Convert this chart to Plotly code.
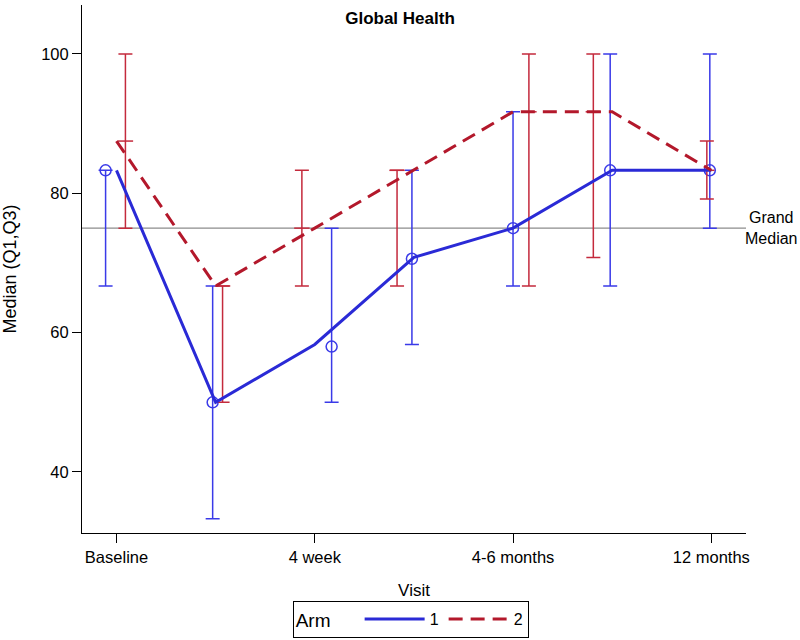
import plotly.graph_objects as go

# ---- data ----
visit_ticks = [0, 2, 4, 6]
visit_labels = ["Baseline", "4 week", "4-6 months", "12 months"]
visit_index = [0, 1, 2, 3, 4, 5, 6]

# Arm 1
arm1_line = [83.3, 50.0, 58.3, 70.8, 75.0, 83.3, 83.3]
arm1_median = [83.3, 50.0, 58.0, 70.6, 75.0, 83.3, 83.3]
arm1_q1 = [66.7, 33.3, 50.0, 58.3, 66.7, 66.7, 75.0]
arm1_q3 = [83.3, 66.7, 75.0, 83.3, 91.7, 100.0, 100.0]
arm1_jitter = [-0.11, -0.03, 0.17, -0.02, 0.0, -0.02, -0.015]

# Arm 2
arm2_line = [87.5, 66.7, 75.0, 83.3, 91.7, 91.7, 83.3]
arm2_median = [87.5, 66.7, 75.0, 83.3, 91.7, 91.7, 83.3]
arm2_q1 = [75.0, 50.0, 66.7, 66.7, 66.7, 70.8, 79.2]
arm2_q3 = [100.0, 66.7, 83.3, 83.3, 100.0, 100.0, 87.5]
arm2_jitter = [0.09, 0.07, -0.13, -0.17, 0.16, -0.19, -0.045]

grand_median = 75.0

BLUE_LINE = "#2a2ad6"
BLUE_BAR = "#3a3ae8"
RED_LINE = "#b3182b"
RED_BAR = "#c42a3c"
FONT = "Liberation Sans, Arial, sans-serif"

fig = go.Figure()

# error bars arm 1 (open circles)
x1 = [v + j for v, j in zip(visit_index, arm1_jitter)]
fig.add_trace(go.Scatter(
    x=x1, y=arm1_median, mode="markers", showlegend=False,
    marker=dict(symbol="circle-open", size=11, color=BLUE_BAR, line=dict(width=1.5, color=BLUE_BAR)),
    error_y=dict(type="data", symmetric=False,
                 array=[q3 - m for q3, m in zip(arm1_q3, arm1_median)],
                 arrayminus=[m - q1 for m, q1 in zip(arm1_median, arm1_q1)],
                 color=BLUE_BAR, thickness=1.5, width=7),
    hoverinfo="skip",
))

# error bars arm 2 (median tick)
x2 = [v + j for v, j in zip(visit_index, arm2_jitter)]
fig.add_trace(go.Scatter(
    x=x2, y=arm2_median, mode="markers", showlegend=False,
    marker=dict(symbol="line-ew-open", size=11, color=RED_BAR, line=dict(width=1.5, color=RED_BAR)),
    error_y=dict(type="data", symmetric=False,
                 array=[q3 - m for q3, m in zip(arm2_q3, arm2_median)],
                 arrayminus=[m - q1 for m, q1 in zip(arm2_median, arm2_q1)],
                 color=RED_BAR, thickness=1.5, width=7),
    hoverinfo="skip",
))

# median lines
fig.add_trace(go.Scatter(
    x=visit_index, y=arm1_line, mode="lines", name="1",
    line=dict(color=BLUE_LINE, width=3),
))
fig.add_trace(go.Scatter(
    x=visit_index, y=arm2_line, mode="lines", name="2",
    line=dict(color=RED_LINE, width=3, dash="14px,8px"),
))

# grand median
fig.add_shape(type="line", xref="paper", x0=0, x1=1, yref="y", y0=grand_median, y1=grand_median,
              line=dict(color="#8c8c8c", width=1.2), layer="below")
fig.add_annotation(xref="paper", x=1.038, yref="y", y=grand_median, text="Grand<br>Median",
                   showarrow=False, xanchor="center", yanchor="middle",
                   font=dict(size=16, color="black", family=FONT))

fig.update_layout(
    width=800, height=640,
    paper_bgcolor="white", plot_bgcolor="white",
    margin=dict(l=82, r=54, t=5, b=107, autoexpand=False),
    font=dict(family=FONT, size=16, color="black"),
    title=dict(text="<b>Global Health</b>", x=0.5, xref="container", xanchor="center",
               y=0.972, yref="container", yanchor="middle",
               font=dict(size=17, color="black", family=FONT)),
    showlegend=True,
    legend=dict(orientation="h", x=0.495, xanchor="center", y=-0.199, yanchor="bottom",
                bordercolor="black", borderwidth=1, bgcolor="white",
                title=dict(text="Arm    ", side="left"),
                font=dict(size=16, color="black", family=FONT),
                itemwidth=60, tracegroupgap=0, valign="middle"),
)

fig.update_xaxes(
    range=[-0.348, 6.35], tickmode="array", tickvals=visit_ticks, ticktext=visit_labels,
    showline=True, linecolor="black", linewidth=1, ticks="outside", ticklen=9,
    tickcolor="black", showgrid=False, zeroline=False,
    title=dict(text="Visit", standoff=19, font=dict(size=17)),
    tickfont=dict(size=16.5),
)
fig.update_yaxes(
    range=[31.24, 107.03], tickvals=[40, 60, 80, 100],
    showline=True, linecolor="black", linewidth=1, ticks="outside", ticklen=9,
    tickcolor="black", showgrid=False, zeroline=False,
    title=dict(text="Median (Q1,Q3)", standoff=23, font=dict(size=18)),
    tickfont=dict(size=16.5),
)

fig.write_html("out.html", post_script="document.body.style.margin='0';",
               config={"displayModeBar": False})
